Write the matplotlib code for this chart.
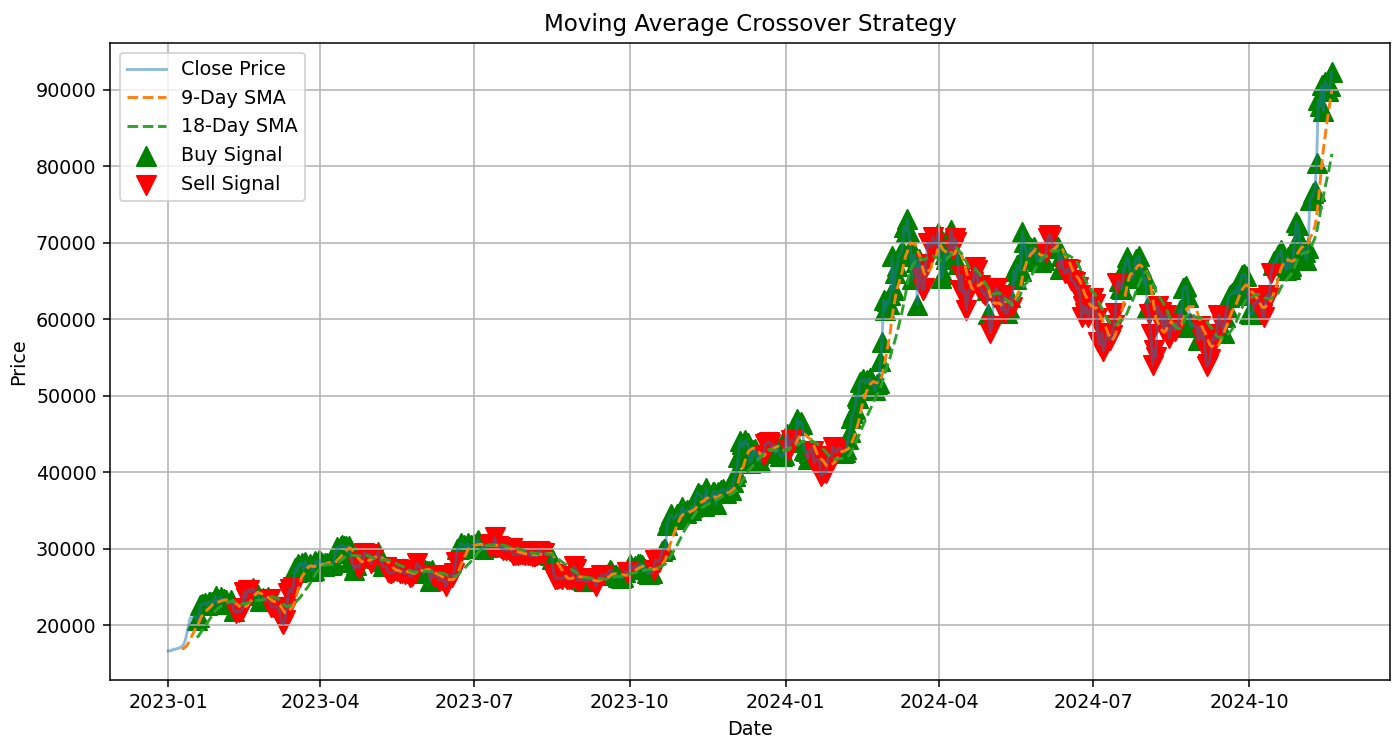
import numpy as np
import pandas as pd
import matplotlib
matplotlib.use("Agg")
import matplotlib.pyplot as plt

# Daily close prices (USD), read/estimated from the chart
c2023_01 = [16625, 16688, 16680, 16863, 16836, 16951, 16955, 17091, 17196, 17446, 17934, 18869, 19909, 20976, 20880, 21169, 21161, 20688, 21086, 22676, 22777, 22721, 22934, 22637, 23055, 23012, 23078, 23031, 23774, 22840, 23139]
c2023_02 = [23723, 23471, 23449, 23331, 22955, 22760, 23264, 22939, 21819, 21651, 21870, 21788, 21808, 22220, 24307, 23623, 24565, 24641, 24328, 24829, 24436, 24188, 23947, 23199, 23146, 23554, 23492, 23147]
c2023_03 = [23646, 23475, 22362, 22353, 22435, 22429, 22219, 21718, 20363, 20187, 20632, 22163, 24197, 24746, 24375, 25052, 27423, 26965, 28038, 27767, 28175, 27307, 28333, 27493, 27494, 27994, 27139, 27268, 28348, 28033, 28478]
c2023_04 = [28411, 28199, 27790, 28168, 28177, 28044, 27925, 27947, 28333, 29653, 30235, 29892, 30399, 30485, 30318, 30315, 29445, 30397, 28823, 28245, 27276, 27817, 27591, 27525, 28307, 28422, 29473, 29340, 29248, 29268]
c2023_05 = [28091, 28680, 29031, 28848, 29538, 28898, 28454, 27695, 27655, 27621, 26988, 26808, 26784, 26931, 27192, 27037, 27398, 26832, 26890, 27129, 26753, 26851, 27225, 26334, 26477, 26719, 26868, 28085, 27746, 27702, 27219]
c2023_06 = [26819, 27249, 27075, 27119, 25760, 27238, 26345, 26508, 26480, 25851, 25940, 25903, 25954, 25128, 25598, 26343, 26501, 26339, 26852, 28327, 30027, 29912, 30695, 30548, 30480, 30271, 30697, 30086, 30445, 30477]
c2023_07 = [30590, 30620, 31156, 30777, 30514, 29909, 30347, 30292, 30171, 30414, 30620, 30392, 31476, 30334, 30295, 30249, 30145, 29857, 29913, 29792, 29908, 29771, 30084, 29176, 29228, 29354, 29210, 29319, 29357, 29275, 29230]
c2023_08 = [29676, 29152, 29178, 29074, 29042, 29041, 29180, 29765, 29561, 29429, 29397, 29415, 29282, 29408, 29170, 28701, 26664, 26050, 26100, 26189, 26124, 26040, 26431, 26163, 26049, 26008, 26089, 26106, 27727, 27297, 25931]
c2023_09 = [25800, 25868, 25969, 25812, 25779, 25753, 26240, 25905, 25895, 25832, 25162, 25833, 26228, 26539, 26608, 26568, 26534, 26754, 27211, 27132, 26567, 26580, 26580, 26256, 26298, 26217, 26352, 27021, 26911, 26967]
c2023_10 = [27983, 27530, 27429, 27799, 27415, 27946, 27968, 27936, 27583, 27391, 26873, 26756, 26862, 26861, 27160, 28519, 28415, 28329, 28720, 29682, 29919, 29993, 33086, 33901, 34502, 34157, 33909, 34090, 34538, 34502, 34667]
c2023_11 = [35437, 34938, 34732, 35082, 35049, 35037, 35443, 35655, 36694, 37313, 37138, 37054, 36502, 35537, 37880, 36154, 36596, 36585, 37386, 37476, 35813, 37432, 37289, 37720, 37796, 37479, 37254, 37831, 37858, 37712]
c2023_12 = [38688, 39476, 39978, 41980, 44080, 43746, 43292, 44167, 43726, 43779, 41244, 41450, 42890, 43023, 41929, 42240, 41364, 42623, 42271, 43652, 43869, 43997, 43740, 43016, 43613, 42521, 43442, 42627, 42099, 42156, 42265]
c2024_01 = [44167, 44958, 42848, 44179, 44162, 43989, 43943, 46970, 46139, 46627, 46368, 42853, 42842, 41796, 42511, 43154, 42742, 41263, 41619, 41665, 41545, 39507, 39845, 40077, 39933, 41816, 42120, 42035, 43288, 42952, 42582]
c2024_02 = [43075, 43185, 42993, 42583, 42659, 43084, 44319, 45302, 47147, 47771, 48293, 49958, 49742, 51826, 51938, 52160, 51663, 52122, 51779, 52284, 51839, 51304, 50731, 51571, 51733, 54522, 57085, 62504, 61198]
c2024_03 = [62440, 62029, 63167, 68330, 63801, 66106, 66925, 68300, 68498, 69019, 72123, 71481, 73083, 71396, 69403, 65315, 68391, 67548, 61912, 67913, 65491, 63778, 64062, 67234, 69959, 69987, 69455, 70744, 69892, 69645, 71334]
c2024_04 = [69702, 65446, 65980, 68508, 67837, 68896, 69362, 71632, 69139, 70587, 70060, 67195, 63821, 65738, 63426, 63811, 61276, 63512, 63843, 64994, 64927, 66837, 66407, 64276, 64481, 63755, 63419, 63114, 63842, 60636]
c2024_05 = [58254, 59123, 62889, 63892, 64031, 63162, 62334, 61188, 63049, 60793, 60793, 61448, 62901, 61553, 66267, 65231, 67051, 66940, 66278, 71448, 70136, 69122, 67929, 68526, 69265, 68518, 69394, 68296, 67578, 68364, 67491]
c2024_06 = [67706, 67751, 68804, 70567, 71082, 70757, 69342, 69305, 69648, 69513, 66639, 68263, 66812, 66011, 66192, 66639, 66491, 65140, 64961, 64858, 64097, 64245, 63180, 60277, 61804, 60812, 61612, 60320, 60887, 62678]
c2024_07 = [62851, 62029, 60173, 56977, 56663, 58230, 55857, 56714, 58052, 57725, 57339, 57889, 59204, 60798, 64724, 65043, 64088, 63987, 66661, 67139, 68165, 67532, 65936, 65372, 65777, 67912, 67813, 68255, 66819, 66201, 64620]
c2024_08 = [65357, 61415, 60680, 58117, 53991, 56034, 55027, 61710, 60881, 60945, 58719, 59354, 60610, 58737, 57560, 58894, 59478, 58483, 59493, 59012, 61175, 60381, 64094, 64178, 64334, 62880, 59504, 59027, 59388, 59119, 58969]
c2024_09 = [57326, 59113, 57487, 57970, 56160, 53949, 54140, 54842, 57020, 57649, 57344, 58127, 60571, 60005, 59182, 58192, 60309, 61649, 62940, 63192, 63395, 63648, 63330, 64301, 63143, 65181, 65790, 65888, 65635, 63330]
c2024_10 = [60837, 60632, 60754, 62067, 62090, 62819, 62224, 62160, 60636, 60274, 62445, 63193, 62851, 66046, 67041, 67613, 67400, 68418, 68362, 69001, 67368, 67362, 66432, 68161, 66642, 67014, 67929, 69907, 72720, 72339, 70215]
c2024_11 = [69482, 69289, 68741, 67811, 69359, 75640, 75904, 76545, 76778, 80474, 88701, 87955, 90585, 87250, 91066, 90558, 89845, 90542, 92343]

close = (c2023_01 + c2023_02 + c2023_03 + c2023_04 + c2023_05 + c2023_06 +
         c2023_07 + c2023_08 + c2023_09 + c2023_10 + c2023_11 + c2023_12 +
         c2024_01 + c2024_02 + c2024_03 + c2024_04 + c2024_05 + c2024_06 +
         c2024_07 + c2024_08 + c2024_09 + c2024_10 + c2024_11)

start_date = "2023-01-01"
short_window = 9
long_window = 18

dates = pd.date_range(start_date, periods=len(close), freq="D")
df = pd.DataFrame({"Close": close}, index=dates)
df["SMA_short"] = df["Close"].rolling(short_window).mean()
df["SMA_long"] = df["Close"].rolling(long_window).mean()
buy = df[df["SMA_short"] > df["SMA_long"]]
sell = df[df["SMA_short"] < df["SMA_long"]]

dpi = 138
fig = plt.figure(figsize=(1400 / dpi, 744 / dpi), dpi=dpi)
ax = fig.add_axes([110 / 1400, 1 - 680 / 744, 1280 / 1400, 637 / 744])

ax.plot(df.index, df["Close"], label="Close Price", alpha=0.5)
ax.plot(df.index, df["SMA_short"], label=f"{short_window}-Day SMA", linestyle="--")
ax.plot(df.index, df["SMA_long"], label=f"{long_window}-Day SMA", linestyle="--")
ax.scatter(buy.index, buy["Close"], marker="^", color="green", label="Buy Signal", s=100)
ax.scatter(sell.index, sell["Close"], marker="v", color="red", label="Sell Signal", s=100)

ax.set_title("Moving Average Crossover Strategy")
ax.set_xlabel("Date")
ax.set_ylabel("Price")
ax.legend(loc="upper left")
ax.grid(True)

fig.savefig("out.png", dpi=dpi)
